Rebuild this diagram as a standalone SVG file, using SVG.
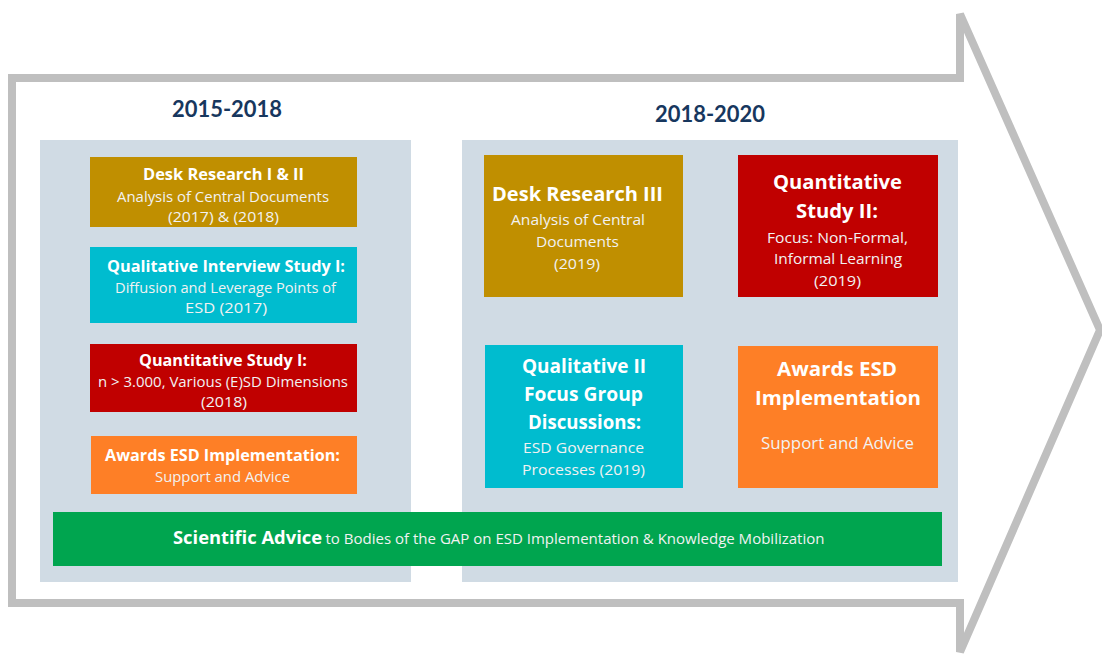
<svg xmlns="http://www.w3.org/2000/svg" width="1102" height="664" viewBox="0 0 1102 664">
<style>
.t{font-family:"Open Sans",Lato,"Liberation Sans",sans-serif;fill:#ffffff;text-anchor:middle}
.b{font-weight:700}
.l{font-weight:400;fill:#f2f2f2}
.yr{font-family:Lato,"Open Sans","Liberation Sans",sans-serif;font-weight:700;fill:#17375e;font-size:22px;text-anchor:middle}
.panel{fill:#d0dbe4}
.gold{fill:#c08f00}
.cyan{fill:#00bccf}
.red{fill:#c00000}
.orange{fill:#fe7f26}
.green{fill:#00a54f}
</style>
<rect width="1102" height="664" fill="#ffffff"/>
<g id="arrow">
<path d="M12,78 H960 V14 L1100,330 L960,652 V603 H12 Z" fill="none" stroke="#bfbfbf" stroke-width="8" stroke-linejoin="miter"/>
</g>
<g id="panel-left"><rect class="panel" x="40" y="140" width="371" height="442"/></g>
<g id="panel-right"><rect class="panel" x="462" y="140" width="496" height="442"/></g>
<g id="title-left"><text class="yr" x="227" y="117" textLength="110" lengthAdjust="spacingAndGlyphs">2015-2018</text></g>
<g id="title-right"><text class="yr" x="710" y="122" textLength="110" lengthAdjust="spacingAndGlyphs">2018-2020</text></g>

<g id="desk12">
<rect class="gold" x="90" y="157" width="267" height="70"/>
<text class="t b" x="223.5" y="180" font-size="15.5" textLength="161" lengthAdjust="spacingAndGlyphs">Desk Research I &amp; II</text>
<text class="t l" x="223" y="202" font-size="14.5" textLength="212" lengthAdjust="spacingAndGlyphs">Analysis of Central Documents</text>
<text class="t l" x="223.5" y="222" font-size="14.5" textLength="111" lengthAdjust="spacingAndGlyphs">(2017) &amp; (2018)</text>
</g>
<g id="qual1">
<rect class="cyan" x="90" y="247" width="267" height="76"/>
<text class="t b" x="226" y="272" font-size="15.5" textLength="238" lengthAdjust="spacingAndGlyphs">Qualitative  Interview Study I:</text>
<text class="t l" x="225.5" y="293" font-size="14.5" textLength="221" lengthAdjust="spacingAndGlyphs">Diffusion and Leverage Points of</text>
<text class="t l" x="226" y="313" font-size="14.5" textLength="82" lengthAdjust="spacingAndGlyphs">ESD  (2017)</text>
</g>
<g id="quant1">
<rect class="red" x="90" y="344" width="267" height="68"/>
<text class="t b" x="223" y="366" font-size="15.5" textLength="168" lengthAdjust="spacingAndGlyphs">Quantitative  Study I:</text>
<text class="t l" x="223" y="387" font-size="14.5" textLength="250" lengthAdjust="spacingAndGlyphs">n &gt; 3.000, Various (E)SD Dimensions</text>
<text class="t l" x="224" y="407" font-size="14.5" textLength="46" lengthAdjust="spacingAndGlyphs">(2018)</text>
</g>
<g id="awards1">
<rect class="orange" x="91" y="436" width="266" height="58"/>
<text class="t b" x="222.5" y="461" font-size="15.5" textLength="235" lengthAdjust="spacingAndGlyphs">Awards ESD Implementation:</text>
<text class="t l" x="222.5" y="482" font-size="14.5" textLength="135" lengthAdjust="spacingAndGlyphs">Support and Advice</text>
</g>

<g id="desk3">
<rect class="gold" x="484" y="155" width="199" height="142"/>
<text class="t b" x="577.5" y="201" font-size="20" textLength="171" lengthAdjust="spacingAndGlyphs">Desk Research III</text>
<text class="t l" x="578" y="225" font-size="15" textLength="134" lengthAdjust="spacingAndGlyphs">Analysis of Central</text>
<text class="t l" x="577.5" y="247" font-size="15" textLength="83" lengthAdjust="spacingAndGlyphs">Documents</text>
<text class="t l" x="577" y="269" font-size="15" textLength="46" lengthAdjust="spacingAndGlyphs">(2019)</text>
</g>
<g id="quant2">
<rect class="red" x="738" y="155" width="200" height="142"/>
<text class="t b" x="837.5" y="189" font-size="20" textLength="129" lengthAdjust="spacingAndGlyphs">Quantitative</text>
<text class="t b" x="837" y="218" font-size="20" textLength="82" lengthAdjust="spacingAndGlyphs">Study II:</text>
<text class="t l" x="837.5" y="243" font-size="14.5" textLength="141" lengthAdjust="spacingAndGlyphs">Focus: Non-Formal,</text>
<text class="t l" x="838" y="264" font-size="14.5" textLength="128" lengthAdjust="spacingAndGlyphs">Informal Learning</text>
<text class="t l" x="837.5" y="286" font-size="14.5" textLength="47" lengthAdjust="spacingAndGlyphs">(2019)</text>
</g>
<g id="qual2">
<rect class="cyan" x="485" y="345" width="198" height="143"/>
<text class="t b" x="584" y="373" font-size="19" textLength="124" lengthAdjust="spacingAndGlyphs">Qualitative II</text>
<text class="t b" x="583.5" y="401" font-size="19" textLength="119" lengthAdjust="spacingAndGlyphs">Focus Group</text>
<text class="t b" x="584.5" y="429" font-size="19" textLength="113" lengthAdjust="spacingAndGlyphs">Discussions:</text>
<text class="t l" x="583.5" y="453" font-size="14.5" textLength="121" lengthAdjust="spacingAndGlyphs">ESD Governance</text>
<text class="t l" x="583.5" y="475" font-size="14.5" textLength="123" lengthAdjust="spacingAndGlyphs">Processes (2019)</text>
</g>
<g id="awards2">
<rect class="orange" x="738" y="346" width="200" height="142"/>
<text class="t b" x="837" y="376" font-size="20" textLength="120" lengthAdjust="spacingAndGlyphs">Awards ESD</text>
<text class="t b" x="838" y="405" font-size="20" textLength="166" lengthAdjust="spacingAndGlyphs">Implementation</text>
<text class="t l" x="837.5" y="449" font-size="16" textLength="153" lengthAdjust="spacingAndGlyphs">Support and Advice</text>
</g>

<g id="advice">
<rect class="green" x="53" y="512" width="889" height="54"/>
<text class="t b" x="247.5" y="544" font-size="17" textLength="149" lengthAdjust="spacingAndGlyphs">Scientific Advice</text>
<text class="t l" x="575" y="544" font-size="14" textLength="499" lengthAdjust="spacingAndGlyphs">to Bodies of the GAP on ESD Implementation  &amp; Knowledge Mobilization</text>
</g>
<g id="connectors"/>
</svg>
